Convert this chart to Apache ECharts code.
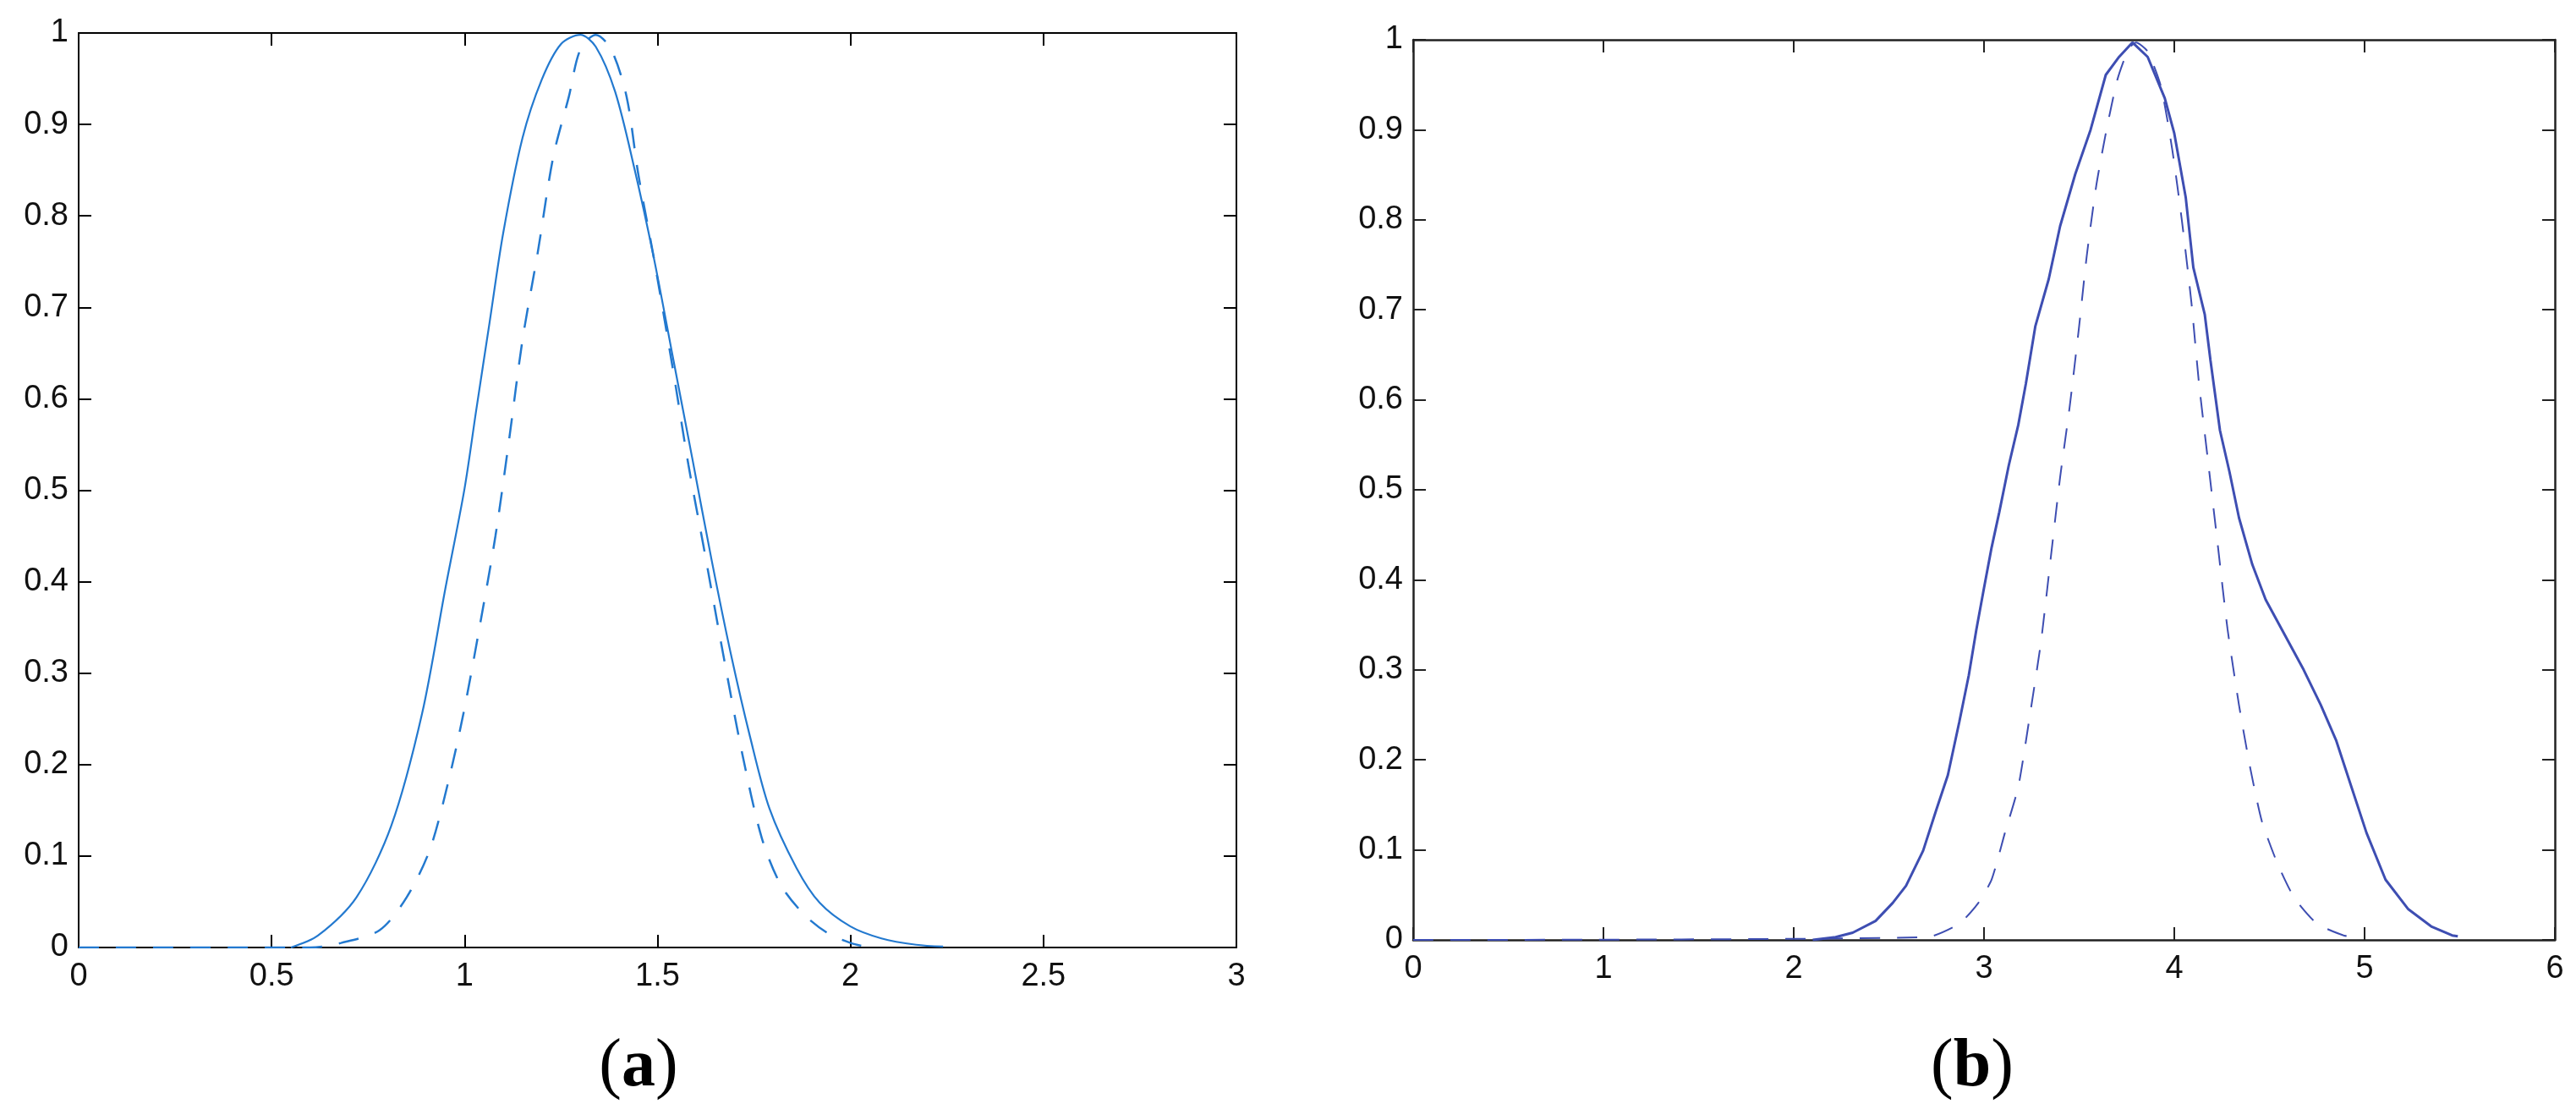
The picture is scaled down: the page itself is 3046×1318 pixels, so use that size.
<!DOCTYPE html>
<html>
<head>
<meta charset="utf-8">
<script src="https://cdn.jsdelivr.net/npm/echarts@6/dist/echarts.min.js"></script>
<style>
    html, body { margin: 0; padding: 0; background: #fff; }
    #chart { width: 3046px; height: 1318px; }
</style>
</head>
<body>
<div id="chart"></div>
<script>
// panel (a)
const aSolidX = [0.55, 0.62, 0.72, 0.81, 0.89, 0.95, 1.0, 1.03, 1.065, 1.10, 1.15, 1.20, 1.25, 1.30, 1.34, 1.39, 1.44, 1.49, 1.54, 1.59, 1.64, 1.69, 1.74, 1.79, 1.86, 1.92, 2.0, 2.08, 2.17, 2.24]
const aSolidY = [0.0, 0.013, 0.055, 0.133, 0.256, 0.392, 0.502, 0.587, 0.684, 0.781, 0.885, 0.949, 0.988, 0.998, 0.985, 0.936, 0.852, 0.755, 0.645, 0.535, 0.424, 0.321, 0.230, 0.152, 0.087, 0.049, 0.023, 0.010, 0.003, 0.001]
const aDashX = [0, 0.6, 0.68, 0.78, 0.85, 0.91, 0.96, 1.0, 1.04, 1.08, 1.115, 1.15, 1.19, 1.23, 1.27, 1.30, 1.34, 1.38, 1.42, 1.45, 1.49, 1.54, 1.58, 1.62, 1.67, 1.72, 1.77, 1.82, 1.88, 1.94, 2.0, 2.05]
const aDashY = [0, 0, 0.005, 0.019, 0.055, 0.107, 0.185, 0.262, 0.353, 0.450, 0.554, 0.664, 0.761, 0.865, 0.930, 0.982, 0.998, 0.982, 0.930, 0.846, 0.755, 0.632, 0.528, 0.437, 0.321, 0.211, 0.120, 0.068, 0.036, 0.016, 0.005, 0.0]

// panel (b)
const bSolidX = [2.1, 2.22, 2.31, 2.43, 2.52, 2.59, 2.68, 2.75, 2.81, 2.87, 2.92, 2.96, 3.0, 3.04, 3.08, 3.13, 3.18, 3.22, 3.27, 3.34, 3.40, 3.48, 3.56, 3.64, 3.71, 3.78, 3.86, 3.95, 4.0, 4.06, 4.10, 4.16, 4.19, 4.24, 4.29, 4.34, 4.41, 4.48, 4.58, 4.68, 4.77, 4.85, 4.92, 5.01, 5.11, 5.23, 5.35, 5.46, 5.49]
const bSolidY = [0, 0.003, 0.008, 0.021, 0.041, 0.060, 0.099, 0.145, 0.183, 0.242, 0.294, 0.345, 0.391, 0.436, 0.475, 0.527, 0.572, 0.618, 0.682, 0.734, 0.793, 0.851, 0.900, 0.961, 0.981, 0.997, 0.981, 0.935, 0.896, 0.825, 0.747, 0.695, 0.644, 0.566, 0.520, 0.469, 0.417, 0.378, 0.339, 0.300, 0.261, 0.222, 0.177, 0.119, 0.067, 0.034, 0.015, 0.005, 0.004]
const bDashX = [0, 2.7, 2.87, 2.97, 3.04, 3.11, 3.18, 3.24, 3.30, 3.35, 3.40, 3.45, 3.50, 3.54, 3.59, 3.64, 3.70, 3.76, 3.80, 3.86, 3.93, 3.99, 4.04, 4.09, 4.13, 4.18, 4.23, 4.28, 4.34, 4.40, 4.46, 4.54, 4.63, 4.75, 4.89, 4.99]
const bDashY = [0, 0.003, 0.018, 0.041, 0.067, 0.119, 0.170, 0.248, 0.332, 0.423, 0.514, 0.592, 0.682, 0.760, 0.838, 0.896, 0.955, 0.990, 0.997, 0.987, 0.948, 0.877, 0.799, 0.708, 0.618, 0.527, 0.436, 0.345, 0.261, 0.190, 0.132, 0.086, 0.047, 0.018, 0.005, 0.002]

const captions = ['a', 'b']

const zip = (xs, ys) => xs.map((x, i) => [x, ys[i]])

const labelFont = { fontFamily: 'Liberation Sans, Arial, sans-serif', fontSize: 38, color: '#111' }

const axisPair = (gridIndex, max, interval, axisColor, width) => {
    const line = { show: true, onZero: false, lineStyle: { color: axisColor, width } }
    const tick = { show: true, inside: true, length: 15, lineStyle: { color: axisColor, width: 2 } }
    return {
        x: [
            { type: 'value', gridIndex, min: 0, max, interval, position: 'bottom', axisLine: line, axisTick: tick, splitLine: { show: false }, axisLabel: { ...labelFont, margin: 16 } },
            { type: 'value', gridIndex, min: 0, max, interval, position: 'top', axisLine: line, axisTick: tick, splitLine: { show: false }, axisLabel: { show: false } },
        ],
        y: [
            { type: 'value', gridIndex, min: 0, max: 1, interval: 0.1, position: 'left', axisLine: line, axisTick: tick, splitLine: { show: false }, axisLabel: { ...labelFont, margin: 12 } },
            { type: 'value', gridIndex, min: 0, max: 1, interval: 0.1, position: 'right', axisLine: line, axisTick: tick, splitLine: { show: false }, axisLabel: { show: false } },
        ],
    }
}

const a = axisPair(0, 3, 0.5, '#000', 2)
const b = axisPair(1, 6, 1, '#222', 2.5)

const colA = '#2379cf'
const colB = '#3e4eb2'

const chart = echarts.init(document.getElementById('chart'), null, { renderer: 'canvas' })
chart.setOption({
    backgroundColor: '#fff',
    animation: false,
    grid: [
        { left: 93, top: 39, width: 1369, height: 1081 },
        { left: 1671, top: 47, width: 1350, height: 1064 },
    ],
    xAxis: [...a.x, ...b.x],
    yAxis: [...a.y, ...b.y],
    series: [
        { type: 'line', xAxisIndex: 0, yAxisIndex: 0, data: zip(aDashX, aDashY), showSymbol: false, smooth: 0.3, lineStyle: { color: colA, width: 2.5, type: [24, 20] } },
        { type: 'line', xAxisIndex: 0, yAxisIndex: 0, data: zip(aSolidX, aSolidY), showSymbol: false, smooth: 0.3, lineStyle: { color: colA, width: 2.2 } },
        { type: 'line', xAxisIndex: 2, yAxisIndex: 2, data: zip(bDashX, bDashY), showSymbol: false, smooth: 0.2, lineStyle: { color: colB, width: 2, type: [24, 20] } },
        { type: 'line', xAxisIndex: 2, yAxisIndex: 2, data: zip(bSolidX, bSolidY), showSymbol: false, lineStyle: { color: colB, width: 3 } },
    ],
    graphic: captions.map((c, i) => ({
        type: 'text',
        x: i === 0 ? 755 : 2332,
        y: 1262,
        style: {
            text: '{p|(}{b|' + c + '}{p|)}',
            align: 'center',
            verticalAlign: 'middle',
            rich: {
                p: { fontFamily: 'Liberation Serif, Times New Roman, serif', fontSize: 80, fill: '#000' },
                b: { fontFamily: 'Liberation Serif, Times New Roman, serif', fontSize: 80, fontWeight: 'bold', fill: '#000' },
            },
        },
    })),
})
</script>
</body>
</html>
